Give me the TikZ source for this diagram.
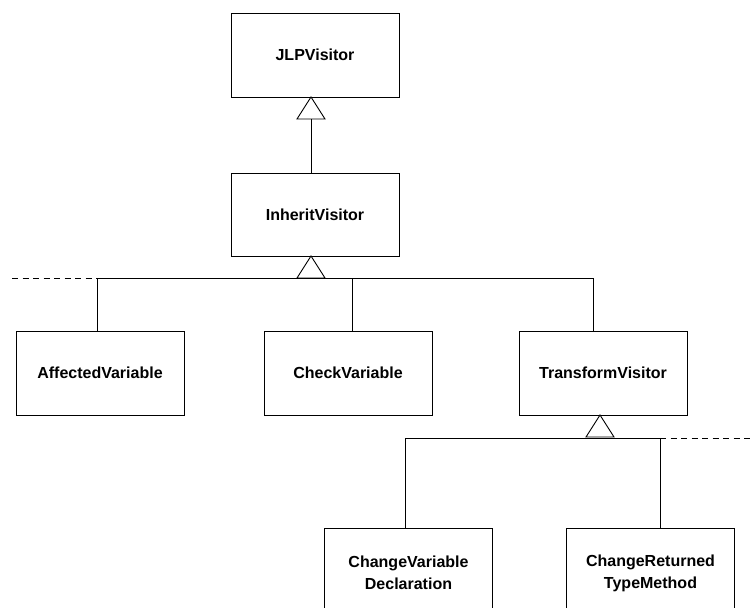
\documentclass[tikz,border=0pt]{standalone}
\usepackage{fontspec}
\setmainfont{Liberation Sans}
\usetikzlibrary{calc}
\begin{document}
\begin{tikzpicture}[x=1pt,y=-1pt,line width=0.9pt,
  cls/.style={draw,rectangle,minimum width=168pt,minimum height=84pt,inner sep=0pt,
    font=\fontsize{16}{22}\selectfont\bfseries,align=center},
  tall/.style={cls,minimum height=90pt},
  ext/.style={dashed,dash pattern=on 6pt off 4.5pt,line width=0.7pt},
  gen/.style={draw,fill=white}]
\useasboundingbox (0,0) rectangle (751,607);
\clip (0,0) rectangle (751,607);

% classes
\node[cls] (jlp) at (315,55)    {JLPVisitor};
\node[cls,minimum height=83pt] (inh) at (315,214.5) {InheritVisitor};
\node[cls] (aff) at (100,373)   {AffectedVariable};
\node[cls] (chk) at (348,373)   {CheckVariable};
\node[cls] (trf) at (603,373)   {TransformVisitor};
\node[tall] (cvd) at (408.5,573) {ChangeVariable\\Declaration};
\node[tall] (crt) at (650.5,573) {ChangeReturned\\TypeMethod};

% generalisation triangles (apex on the parent box)
\coordinate (t1) at (311,97);
\coordinate (t2) at (311,256);
\coordinate (t3) at (600,415);
\foreach \t in {t1,t2,t3}
  \draw[gen] (\t) -- ++(-14,22) -- ++(28,0) -- cycle;

% JLPVisitor <- InheritVisitor
\draw ($(t1)+(0,22)$) -- (inh.north -| t1);

% InheritVisitor <- children
\coordinate (b1) at (97,278);
\coordinate (b2) at (352,278);
\coordinate (b3) at (593,278);
\draw (b1) -- (b3);
\draw[ext] (12,278) -- (b1);
\draw (b1) -- (b1 |- aff.north);
\draw (b2) -- (b2 |- chk.north);
\draw (b3) -- (b3 |- trf.north);

% TransformVisitor <- children
\coordinate (c1) at (405,438);
\coordinate (c2) at (660,438);
\draw (c1) -- (c2);
\draw[ext] (c2) -- (751,438);
\draw (c1) -- (c1 |- cvd.north);
\draw (c2) -- (c2 |- crt.north);
\end{tikzpicture}
\end{document}
